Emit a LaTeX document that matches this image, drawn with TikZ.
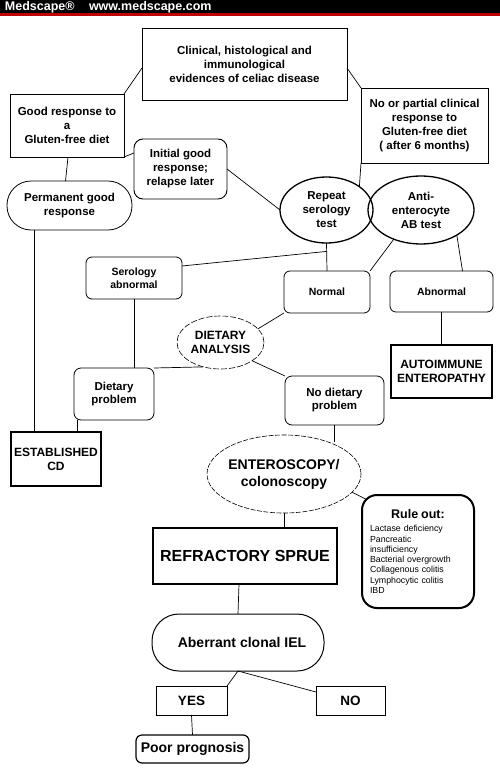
\documentclass[tikz,border=0pt]{standalone}
\usepackage{fontspec}
\setmainfont{Liberation Sans}
\usetikzlibrary{shapes.geometric,calc}
\definecolor{hdred}{RGB}{190,0,0}
\begin{document}
\begin{tikzpicture}[x=1pt,y=-1pt,
  every node/.style={inner sep=0pt, outer sep=0pt, align=center, font=\bfseries\fontsize{11.5}{14}\selectfont},
  box/.style={draw, line width=0.8pt, rectangle},
  rbox/.style={draw, line width=0.8pt, rectangle, rounded corners=6pt},
  tbox/.style={draw, line width=2.6pt, rectangle},
  ell/.style={draw, line width=1.3pt, ellipse},
  dell/.style={draw, line width=0.6pt, ellipse, dash pattern=on 6pt off 2pt},
  conn/.style={line width=0.7pt},
  sz/.style 2 args={minimum width=#1pt, minimum height=#2pt},
  smallf/.style={font=\bfseries\fontsize{10.5}{12.7}\selectfont},
]
\useasboundingbox (0,0) rectangle (500,768);
% header
\fill[black] (0,0) rectangle (500,13.5);
\fill[hdred] (0,13.5) rectangle (500,16);
\node[anchor=base west, text=white, font=\bfseries\fontsize{12.5}{14}\selectfont] (hd1) at (5,11) {Medscape®};
\node[anchor=base west, text=white, font=\bfseries\fontsize{12.5}{14}\selectfont] (hd2) at (89,11) {www.medscape.com};

% nodes
\node[box, sz={205}{72}] (top) at (244.5,64) {Clinical, histological and\\immunological\\evidences of celiac disease};
\node[box, sz={114}{63}] (good) at (67,125.5) {Good response to\\a\\Gluten-free diet};
\node[box, sz={127}{75}] (no) at (424.5,125.5) {No or partial clinical\\response to\\Gluten-free diet\\( after 6 months)};
\node[rbox, rounded corners=9pt, line width=0.9pt, sz={93}{60}] (init) at (180.5,169) {Initial good\\response;\\relapse later};
\node[rbox, rounded corners=24pt, sz={125}{49}] (perm) at (69.5,205.5) {Permanent good\\response};
\node[ell, sz={93}{66}] (rep) at (326.5,210) {Repeat\\serology\\test};
\node[ell, sz={106}{68}] (anti) at (421,210) {Anti-\\enterocyte\\AB test};
\node[rbox, sz={96}{42}, smallf] (ser) at (134,278) {Serology\\abnormal};
\node[rbox, sz={86}{42}, smallf] (normal) at (327,292) {Normal};
\node[rbox, sz={103}{41}, smallf] (abn) at (441.5,291.5) {Abnormal};
\node[tbox, sz={101}{53}, font=\bfseries\fontsize{12}{13.5}\selectfont] (auto) at (441.5,371.5) {AUTOIMMUNE\\ENTEROPATHY};
\node[dell, sz={87}{53}, font=\bfseries\fontsize{12}{14}\selectfont] (diet) at (220.5,342.5) {DIETARY\\ANALYSIS};
\node[rbox, rounded corners=7pt, sz={80}{52}, font=\bfseries\fontsize{11.5}{13}\selectfont] (dprob) at (114,394) {Dietary\\problem};
\node[rbox, rounded corners=7pt, sz={99}{49}, font=\bfseries\fontsize{11.5}{13}\selectfont] (nodp) at (334.5,400.5) {No dietary\\problem};
\node[tbox, sz={90}{54}, font=\bfseries\fontsize{12}{14}\selectfont] (est) at (56,459) {ESTABLISHED\\CD};
\node[dell, dash pattern=on 5pt off 1.5pt, sz={154}{78}, font=\bfseries\fontsize{14}{17}\selectfont] (ent) at (284,474) {\makebox[100pt]{ENTEROSCOPY/}\\colonoscopy};
\node[draw, line width=2pt, rounded corners=15pt, sz={112}{113}, text width=96pt, align=left, font=\fontsize{8.8}{10.3}\selectfont] (ro) at (418,551.5)
  {\makebox[96pt]{\fontsize{12.5}{14}\selectfont\bfseries Rule out:}\\[3pt]Lactase deficiency\\Pancreatic\\insufficiency\\Bacterial overgrowth\\Collagenous colitis\\Lymphocytic colitis\\IBD};
\node[tbox, sz={184}{56}, font=\bfseries\fontsize{16}{18}\selectfont] (refr) at (245,556) {REFRACTORY SPRUE};
\node[rbox, rounded corners=27pt, sz={172}{57}, line width=1pt, font=\bfseries\fontsize{14}{16}\selectfont] (aber) at (238,642.5) {\hspace{8pt}Aberrant clonal IEL};
\node[box, sz={71}{29}, font=\bfseries\fontsize{13.5}{16}\selectfont] (yes) at (191.5,700.5) {YES};
\node[box, sz={69}{29}, font=\bfseries\fontsize{13.5}{16}\selectfont] (nob) at (350.5,700.5) {NO};
\node[rbox, sz={113}{28}, line width=1.2pt, font=\bfseries\fontsize{14}{16}\selectfont] (poor) at (192.5,749) {Poor prognosis};

% connectors
\coordinate (j1) at ($(rep.south)!0.3!(normal.north)$);
\draw[conn] ([yshift=-4pt]top.west) -- (good.north east);
\draw[conn] ([yshift=-4pt]top.east) -- (no.north west);
\draw[conn] ([xshift=1pt]good.south) -- ([xshift=-4pt]perm.north);
\draw[conn] (good.south east) -- ([yshift=16pt]init.west);
\draw[conn] (init.east) -- (rep.west);
\draw[conn] (no.south west) -- (rep.north east);
\draw[conn] ([xshift=-35.5pt]perm.south) -- ([xshift=-35.5pt]perm.south |- est.north);
\draw[conn] (rep.south) -- (normal.north);
\draw[conn] ([yshift=12pt]ser.east) -- (j1);
\draw[conn] (anti.227) -- (normal.north east);
\draw[conn] (anti.325) -- ([xshift=21pt]abn.north);
\draw[conn] (abn.south) -- (auto.north);
\draw[conn] (normal.south west) -- (diet.20);
\draw[conn] (ser.south) -- (ser.south |- dprob.north);
\draw[conn] (diet.235) -- (dprob.north east);
\draw[conn] (diet.330) -- (nodp.north west);
\draw[conn] (nodp.south) -- (nodp.south |- ent.35);
\draw[conn] ([xshift=3pt]dprob.south west) -- ([xshift=3pt]dprob.south west |- est.north);
\draw[conn] (ent.south) -- (ent.south |- refr.north);
\draw[conn] (ent.345) -- ([xshift=4.4pt,yshift=-4.4pt]ro.north west);
\draw[conn] ([xshift=-6pt]refr.south) -- (aber.north);
\draw[conn] (aber.south) -- (yes.north east);
\draw[conn] (aber.south) -- ([yshift=-6pt]nob.north west);
\draw[conn] (yes.south) -- (poor.north);
\end{tikzpicture}
\end{document}
